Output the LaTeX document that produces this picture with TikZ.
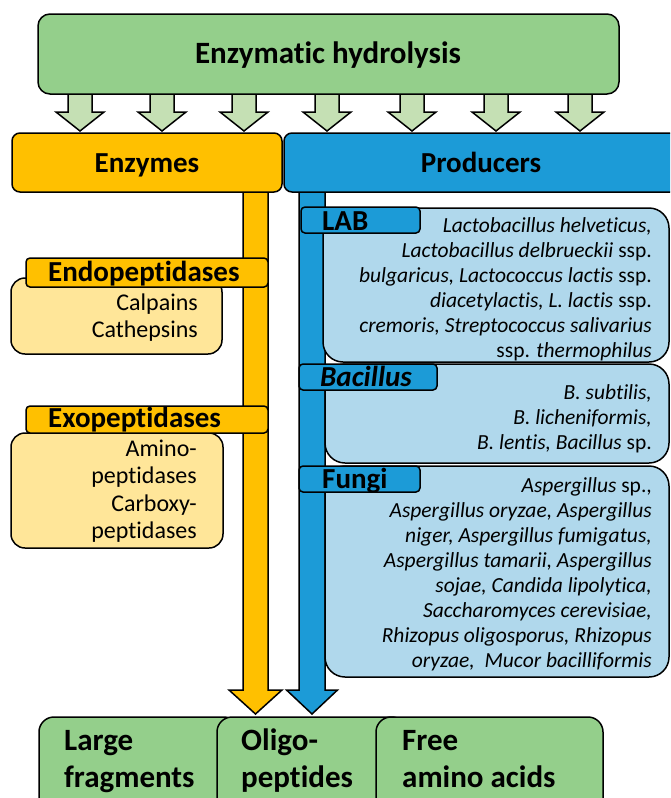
\documentclass[tikz,border=0pt]{standalone}
\usepackage{fontspec}
\setmainfont{Carlito}[Ligatures=CommonOff]
\definecolor{hgreen}{RGB}{148,207,139}
\definecolor{agreen}{RGB}{197,224,180}
\definecolor{enzorange}{RGB}{255,192,0}
\definecolor{prodblue}{RGB}{28,155,215}
\definecolor{lyellow}{RGB}{255,230,153}
\definecolor{lblue}{RGB}{176,216,236}
% #1 x centre, #2 top y, #3 head base y, #4 tip y, #5 stem half width, #6 head half width, #7 fill
\newcommand\myblockarrow[7]{%
  \draw[outl, fill=#7, line join=miter]
    (#1-#5,#2) -- (#1-#5,#3) -- (#1-#6,#3) -- (#1,#4) -- (#1+#6,#3) -- (#1+#5,#3) -- (#1+#5,#2) -- cycle;}
\begin{document}
\begin{tikzpicture}[x=1pt,y=-1pt,
  outl/.style={draw=black, line width=1.5pt},
  boxstyle/.style={outl, inner sep=0, outer sep=0, anchor=north west, rounded corners=#1},
  boxstyle/.default=12pt,
  hdrstyle/.style={outl, inner sep=0, outer sep=0, anchor=north west, rounded corners=4pt},
  bigfont/.style={inner sep=0, font=\bfseries\fontsize{29}{34}\selectfont},
  titlefont/.style={inner sep=0, font=\bfseries\fontsize{31}{37}\selectfont},
  outfont/.style={inner sep=0, align=left, anchor=north west, font=\bfseries\fontsize{31}{37}\selectfont},
  enzfont/.style={inner sep=0, align=right, anchor=north east, font=\fontsize{24}{27.5}\selectfont},
  spfont/.style={inner sep=0, align=right, anchor=north east, font=\fontsize{21.5}{25.1}\selectfont},
]
\useasboundingbox (0,0) rectangle (670,798);
\clip (0,0) rectangle (670,798);

% arrows from the title
\foreach \ax in {80,162,244,327,412,496,580}{\myblockarrow{\ax}{90}{112}{131}{12}{24}{agreen}}
\node[boxstyle, fill=hgreen, minimum width=581, minimum height=80] (title) at (38,14) {};
\node[titlefont, anchor=base] (titletext) at (328,63) {Enzymatic hydrolysis};

% vertical block arrows
\myblockarrow{255.5}{185}{690}{714}{12.5}{26.5}{enzorange}
\myblockarrow{312}{185}{690}{714}{13}{25.5}{prodblue}

% Enzymes / Producers
\node[boxstyle=8pt, fill=enzorange, minimum width=270, minimum height=59] (enz) at (12,133) {};
\node[boxstyle=8pt, fill=prodblue, minimum width=400, minimum height=59] (prod) at (284,133) {};
\node[bigfont, anchor=base] (enztext) at (147,172) {Enzymes};
\node[bigfont, anchor=base] (prodtext) at (481,172) {Producers};

% Endopeptidases
\node[boxstyle=14pt, fill=lyellow, minimum width=211, minimum height=76] (endobox) at (11,278) {};
\node[hdrstyle, fill=enzorange, minimum width=242, minimum height=29] (endohdr) at (26,258) {};
\node[bigfont, anchor=base west] (endotext) at (48,281) {Endopeptidases};
\node[enzfont] (endolist) at (198,290.75) {\strut Calpains\\\strut Cathepsins};

% Exopeptidases
\node[boxstyle=14pt, fill=lyellow, minimum width=212, minimum height=115] (exobox) at (11,433) {};
\node[hdrstyle, fill=enzorange, minimum width=242, minimum height=27] (exohdr) at (26,406) {};
\node[bigfont, anchor=base west] (exotext) at (48,427) {Exopeptidases};
\node[enzfont] (exolist) at (197,436.75) {\strut Amino-\\\strut peptidases\\\strut Carboxy-\\\strut peptidases};

% LAB
\node[boxstyle=20pt, fill=lblue, minimum width=346, minimum height=154] (labbox) at (323,208) {};
\node[hdrstyle, fill=prodblue, minimum width=119, minimum height=26] (labhdr) at (301,207) {};
\node[bigfont, anchor=base west] (labtext) at (322,230) {LAB};
\node[spfont] (lablist) at (652,214.4) {%
  \strut\textit{Lactobacillus helveticus,}\\
  \strut\textit{Lactobacillus delbrueckii} ssp.\\
  \strut\textit{bulgaricus, Lactococcus lactis} ssp.\\
  \strut\textit{diacetylactis, L. lactis} ssp.\\
  \strut\textit{cremoris, Streptococcus salivarius}\\
  \strut ssp. \textit{thermophilus}};

% Bacillus
\node[boxstyle=20pt, fill=lblue, minimum width=344, minimum height=99] (bacbox) at (325,364) {};
\node[hdrstyle, fill=prodblue, minimum width=138, minimum height=26] (bachdr) at (299,364) {};
\node[bigfont, anchor=base west] (bactext) at (320,386) {\textit{Bacillus}};
\node[spfont] (baclist) at (652,381.4) {%
  \strut\textit{B. subtilis,}\\
  \strut\textit{B. licheniformis,}\\
  \strut\textit{B. lentis, Bacillus} sp.};

% Fungi
\node[boxstyle=20pt, fill=lblue, minimum width=344, minimum height=211] (funbox) at (325,466) {};
\node[hdrstyle, fill=prodblue, minimum width=121, minimum height=26] (funhdr) at (299,466) {};
\node[bigfont, anchor=base west] (funtext) at (322,488) {Fungi};
\node[spfont] (funlist) at (652,474.4) {%
  \strut\textit{Aspergillus} sp.,\\
  \strut\textit{Aspergillus oryzae, Aspergillus}\\
  \strut\textit{niger, Aspergillus fumigatus,}\\
  \strut\textit{Aspergillus tamarii, Aspergillus}\\
  \strut\textit{sojae, Candida lipolytica,}\\
  \strut\textit{Saccharomyces cerevisiae,}\\
  \strut\textit{Rhizopus oligosporus, Rhizopus}\\
  \strut\textit{oryzae,\ \ Mucor bacilliformis}};

% products
\node[boxstyle=15pt, fill=hgreen, minimum width=200, minimum height=100] (large) at (39,717) {};
\node[boxstyle=15pt, fill=hgreen, minimum width=190, minimum height=100] (oligo) at (217,717) {};
\node[boxstyle=15pt, fill=hgreen, minimum width=227, minimum height=100] (free) at (376,717) {};
\node[outfont] (largetext) at (64,724.1) {\strut Large\\\strut fragments};
\node[outfont] (oligotext) at (241,724.1) {\strut Oligo-\\\strut peptides};
\node[outfont] (freetext) at (402,724.1) {\strut Free\\\strut amino acids};
\end{tikzpicture}
\end{document}
